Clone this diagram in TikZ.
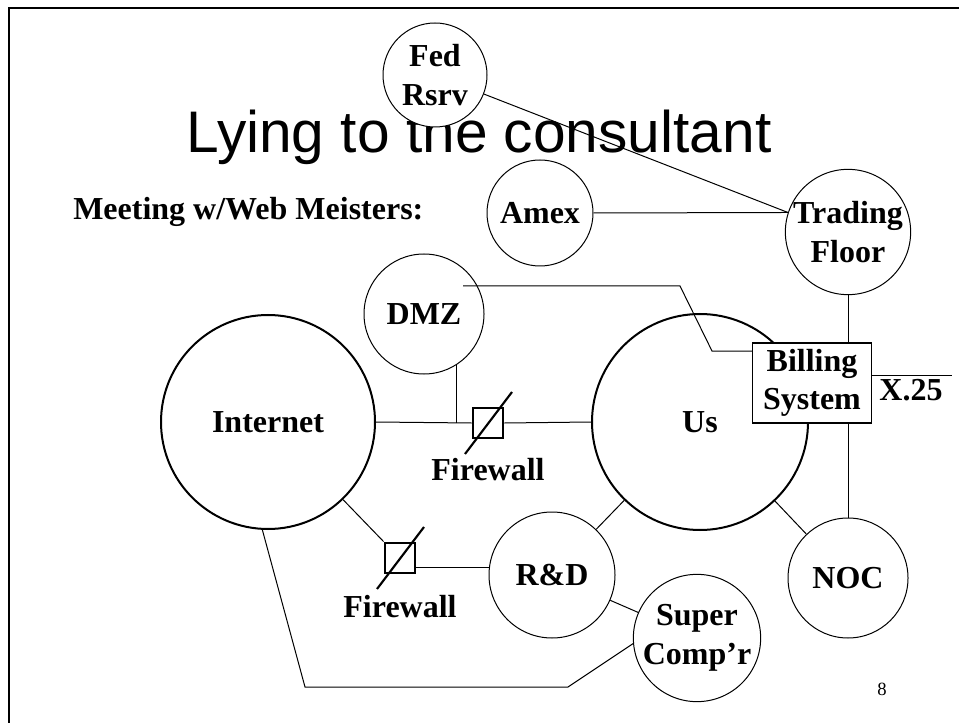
\documentclass[tikz,border=0pt]{standalone}
\usepackage{fontspec}
\setmainfont{Liberation Serif}
\newfontfamily\titlesans{Liberation Sans}
\usetikzlibrary{positioning, calc}

\begin{document}
\begin{tikzpicture}[
    x=0.75pt, y=-0.75pt,
    site/.style={circle, draw, fill=white, line width=0.75pt, inner sep=0pt,
                 align=center, font=\fontsize{24}{29}\selectfont\bfseries},
    bigsite/.style={site, line width=1.5pt},
    sysbox/.style={rectangle, draw, fill=white, line width=1pt, inner sep=0pt,
                   minimum width=89pt, minimum height=60pt, align=center,
                   font=\fontsize{24}{29}\selectfont\bfseries},
    fwbox/.style={rectangle, draw, fill=white, line width=1.6pt, minimum size=23pt, inner sep=0pt},
    slash/.style={line width=1.6pt},
    link/.style={line width=0.75pt},
    lbl/.style={font=\fontsize{24}{29}\selectfont\bfseries, inner sep=0pt, anchor=base},
  ]
  \useasboundingbox (0,0) rectangle (959,723);

  % Slide frame, title and heading
  \draw[line width=1.5pt] (9,723) -- (9,8) -- (959,8);
  \node[font=\titlesans\fontsize{44}{53}\selectfont, inner sep=0pt, anchor=base] (title) at (479,153) {Lying to the consultant};
  \node[lbl, anchor=base west] (meeting) at (73,220) {Meeting w/Web Meisters:};

  % Sites
  \node[site, minimum size=78pt]   (fed)      at (435,75)  {Fed\\Rsrv};
  \node[site, minimum size=79.5pt] (amex)     at (540,213) {Amex};
  \node[site, minimum size=93pt]   (trading)  at (848,232) {Trading\\Floor};
  \node[site, minimum size=90pt]   (dmz)      at (424,314) {DMZ};
  \node[bigsite, minimum size=160.5pt] (internet) at (268,422) {Internet};
  \node[bigsite, minimum size=162pt]   (us)       at (700,422) {Us};
  \node[site, minimum size=94.5pt] (rd)       at (552,575) {R\&D};
  \node[site, minimum size=94.5pt] (super)    at (697,638) {Super\\Comp’r};
  \node[site, minimum size=90pt]   (noc)      at (848,578) {NOC};
  \node[sysbox] (bill) at (812,383) {Billing\\System};

  % Firewalls
  \node[fwbox] (fw1) at (488,423) {};
  \node[fwbox] (fw2) at (400,558) {};
  \draw[slash] ($(fw1.center)+(-23,31)$) -- ($(fw1.center)+(24,-31)$);
  \draw[slash] ($(fw2.center)+(-23,31)$) -- ($(fw2.center)+(24,-31)$);
  \node[lbl] (fwlbl1) at (488,480) {Firewall};
  \node[lbl] (fwlbl2) at (400,617) {Firewall};

  % Links
  \coordinate (tf) at (trading.162);
  \draw[link] (fed) -- (tf);
  \draw[link] (amex.east) -- (tf);
  \draw[link] (trading.south) -- (trading.south |- bill.north);
  \draw[link] (noc.north) -- (noc.north |- bill.south);
  \coordinate (kink) at (712,351);
  \draw[link] ($(dmz.center)+(39,-28)$) -- (680,286) -- (kink) -- (kink -| bill.west);
  \coordinate (x25end) at (952,375);
  \draw[link] (x25end -| bill.east) -- (x25end);
  \node[lbl] (x25) at (911,400) {X.25};

  \draw[link] (internet.east) -- (fw1.west);
  \draw[link] (fw1.east) -- (us.west);
  \draw[link] (dmz.-58) -- (dmz.-58 |- fw1.center);
  \draw[link] (internet) -- (fw2.north west);
  \coordinate (rdin) at ($(fw2.east)+(0,9)$);
  \draw[link] (rdin) -- (rdin -| rd.west);
  \draw[link] (rd) -- (us);
  \draw[link] (rd) -- (super);
  \draw[link] (us) -- (noc);
  \draw[link] (internet.-93) -- (305,687) -- (568,687) -- (super.185);

  % Page number
  \node[font=\fontsize{14}{17}\selectfont, inner sep=0pt, anchor=base] (page) at (882,695) {8};
\end{tikzpicture}
\end{document}
